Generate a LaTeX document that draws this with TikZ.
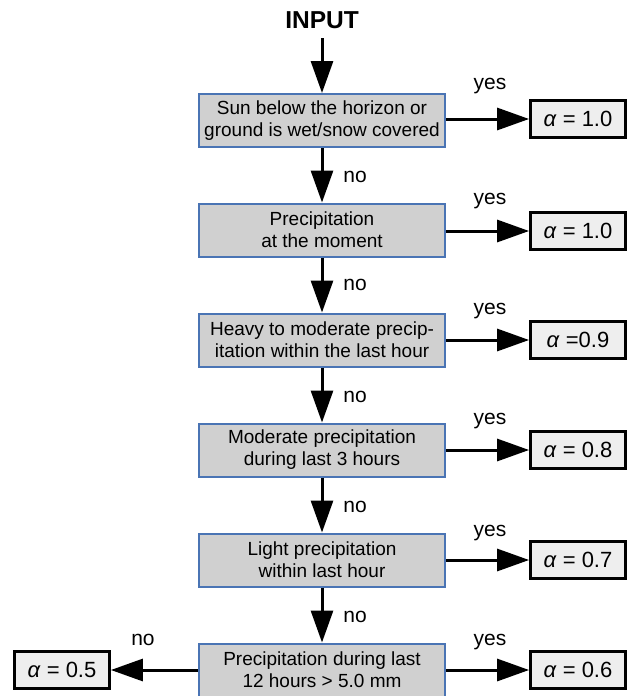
\documentclass[tikz,border=0pt]{standalone}
\usepackage{fontspec}
\setmainfont{Liberation Sans}
\usetikzlibrary{arrows.meta}
\definecolor{boxfill}{HTML}{D0D0D0}
\definecolor{boxline}{HTML}{4A74B4}
\definecolor{resfill}{HTML}{EEEEEE}
\begin{document}
\begin{tikzpicture}[x=1pt,y=-1pt,
  decision/.style={draw=boxline, line width=2pt, fill=boxfill, minimum width=246pt, minimum height=53pt, inner sep=0pt, align=center, font=\fontsize{19}{22}\selectfont},
  result/.style={draw=black, line width=2.8pt, fill=resfill, minimum width=95pt, minimum height=37pt, inner sep=0pt, font=\fontsize{22}{24}\selectfont},
  flow/.style={line width=3pt, -{Triangle[length=32pt,width=22pt]}},
  lbl/.style={font=\fontsize{21}{23}\selectfont, inner sep=0pt}]
\useasboundingbox (0,0) rectangle (633,696);
\node[font=\fontsize{24.5}{27}\selectfont\bfseries] (in) at (322,20) {INPUT};
\node[decision] (b1) at (322,120.5) {Sun below the horizon or\\ground is wet/snow covered};
\node[decision] (b2) at (322,230) {Precipitation\\at the moment};
\node[decision] (b3) at (322,340) {Heavy to moderate precip-\\itation within the last hour};
\node[decision] (b4) at (322,450) {Moderate precipitation\\during last 3 hours};
\node[decision] (b5) at (322,560) {Light precipitation\\within last hour};
\node[decision] (b6) at (322,670) {Precipitation during last\\12 hours > 5.0 mm};
\node[result] (r1) at (578,119) {\textit{α} = 1.0};
\node[result] (r2) at (578,231) {\textit{α} = 1.0};
\node[result] (r3) at (578,340) {\textit{α} =0.9};
\node[result] (r4) at (578,450) {\textit{α} = 0.8};
\node[result] (r5) at (578,560) {\textit{α} = 0.7};
\node[result] (r6) at (578,670) {\textit{α} = 0.6};
\node[result] (r7) at (62,670) {\textit{α} = 0.5};
\draw[flow] (in.south) ++(0,6) coordinate (inb) (inb) -- (b1.north);
\foreach \a/\b in {b1/b2,b2/b3,b3/b4,b4/b5,b5/b6} \draw[flow] (\a) -- (\b);
\foreach \i in {1,...,6} \draw[flow] (b\i.east |- r\i) -- (r\i);
\draw[flow] (b6) -- (r7);
\node[lbl] (y1) at (490,86) {yes};
\node[lbl] (y2) at (490,201) {yes};
\node[lbl] (y3) at (490,311) {yes};
\node[lbl] (y4) at (490,421) {yes};
\node[lbl] (y5) at (490,533) {yes};
\node[lbl] (y6) at (490,642) {yes};
\node[lbl] (n1) at (355,177) {no};
\node[lbl] (n2) at (355,285) {no};
\node[lbl] (n3) at (355,397) {no};
\node[lbl] (n4) at (355,507) {no};
\node[lbl] (n5) at (355,617) {no};
\node[lbl] (n6) at (143,640) {no};
\end{tikzpicture}
\end{document}
